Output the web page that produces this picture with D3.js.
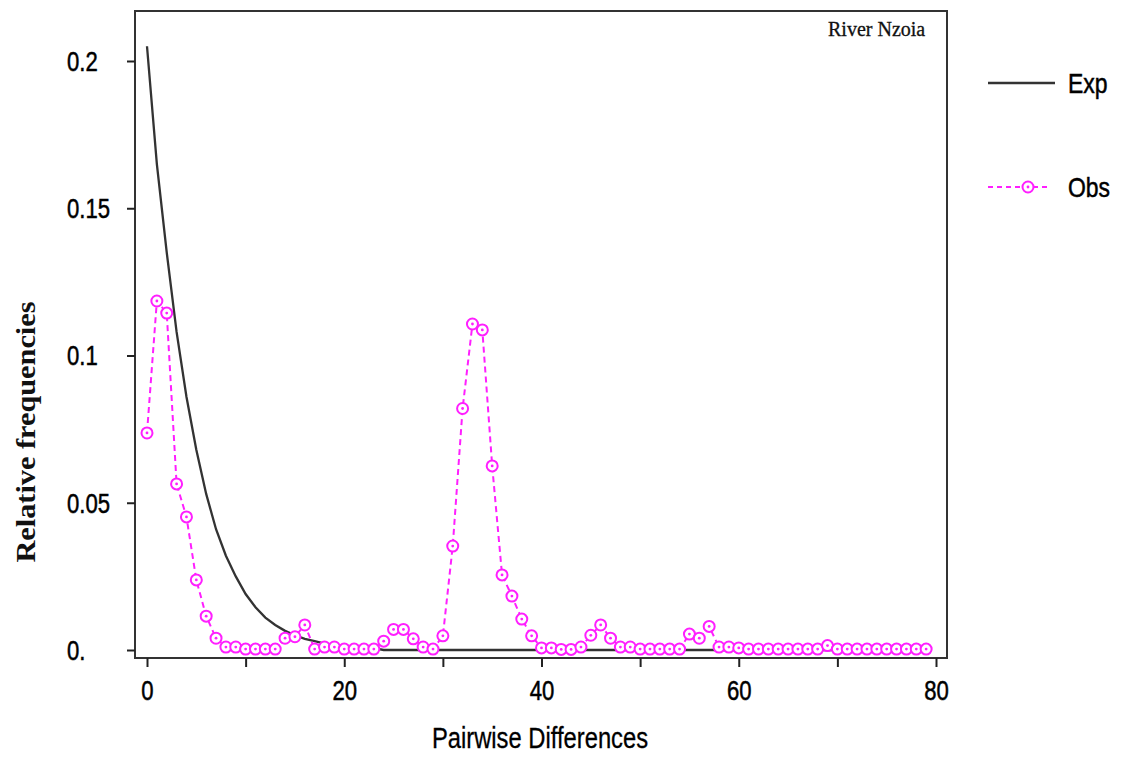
<!DOCTYPE html>
<html>
<head>
<meta charset="utf-8">
<script src="https://cdn.jsdelivr.net/npm/d3@7"></script>
<style>
  body { margin: 0; background: #fff; }
  .narrow { font-family: "Liberation Sans", Arial, sans-serif; }
  .narrow text, text.narrow { stroke: #000; stroke-width: 0.5px; }
</style>
</head>
<body>
<div id="chart"></div>
<script>
// pairwise differences 0..79
var diffs = d3.range(0, 80);

// expected (sudden expansion model)
var expVals = [0.205, 0.165, 0.135, 0.108, 0.086, 0.068, 0.053, 0.041, 0.032, 0.025,
               0.019, 0.0145, 0.011, 0.0085, 0.0065, 0.005, 0.0038, 0.003, 0.0022, 0.0017,
               0.0013, 0.001, 0.0008, 0.0006, 0, 0, 0, 0, 0, 0,
               0, 0, 0, 0, 0, 0, 0, 0, 0, 0,
               0, 0, 0, 0, 0, 0, 0, 0, 0, 0,
               0, 0, 0, 0, 0, 0, 0, 0, 0, 0,
               0, 0, 0, 0, 0, 0, 0, 0, 0, 0,
               0, 0, 0, 0, 0, 0, 0, 0, 0, 0];

// observed
var obsVals = [0.0737, 0.1185, 0.1144, 0.0564, 0.0452, 0.0238, 0.0115, 0.004, 0.001, 0.001,
               0.0003, 0.0003, 0.0003, 0.0003, 0.004, 0.0045, 0.0085, 0.0003, 0.001, 0.001,
               0.0003, 0.0003, 0.0003, 0.0003, 0.003, 0.007, 0.007, 0.0038, 0.001, 0.0003,
               0.0048, 0.0353, 0.082, 0.1107, 0.1087, 0.0625, 0.0255, 0.0183, 0.0105, 0.0048,
               0.0007, 0.0007, 0.0002, 0.0002, 0.001, 0.005, 0.0085, 0.004, 0.001, 0.001,
               0.0003, 0.0003, 0.0003, 0.0003, 0.0003, 0.0054, 0.004, 0.008, 0.001, 0.001,
               0.0007, 0.0003, 0.0003, 0.0003, 0.0003, 0.0003, 0.0003, 0.0003, 0.0003, 0.0015,
               0.0003, 0.0003, 0.0003, 0.0003, 0.0003, 0.0003, 0.0003, 0.0003, 0.0003, 0.0003];

var xTicks = [0, 10, 20, 30, 40, 50, 60, 70, 80];
var xLabels = ["0", "", "20", "", "40", "", "60", "", "80"];
var yTicks = [0, 0.05, 0.1, 0.15, 0.2];
var yLabels = ["0.", "0.05", "0.1", "0.15", "0.2"];

var W = 1121, H = 758;
var frame = {left: 135, top: 11, right: 947, bottom: 658};
var squeeze = 0.82; // narrow sans look

var svg = d3.select("#chart")
    .append("svg")
    .attr("width", W)
    .attr("height", H);

var x = d3.scaleLinear().domain([0, 80]).range([147, 936]);
var y = d3.scaleLinear().domain([0, 0.2]).range([650, 61]);

var magenta = "#ff1fff";

// frame
svg.append("rect")
    .attr("x", frame.left).attr("y", frame.top)
    .attr("width", frame.right - frame.left)
    .attr("height", frame.bottom - frame.top)
    .attr("fill", "none")
    .attr("stroke", "#333")
    .attr("stroke-width", 2);

// X axis
var xAxis = svg.append("g")
    .attr("class", "narrow")
    .attr("transform", "translate(0," + frame.bottom + ")")
    .call(d3.axisBottom(x)
        .tickValues(xTicks)
        .tickSize(9)
        .tickFormat(function(d, i) { return xLabels[i]; }));
xAxis.select(".domain").remove();
xAxis.selectAll("line").attr("stroke", "#222").attr("stroke-width", 2);
xAxis.selectAll("text")
    .attr("font-size", 27)
    .attr("fill", "#000")
    .attr("font-family", null)
    .attr("y", null).attr("dy", null)
    .attr("transform", "translate(0,42) scale(" + squeeze + ",1)");

// Y axis
var yAxis = svg.append("g")
    .attr("class", "narrow")
    .attr("transform", "translate(" + frame.left + ",0)")
    .call(d3.axisLeft(y)
        .tickValues(yTicks)
        .tickSize(8)
        .tickFormat(function(d, i) { return yLabels[i]; }));
yAxis.select(".domain").remove();
yAxis.selectAll("line").attr("stroke", "#222").attr("stroke-width", 2);
yAxis.selectAll("text")
    .attr("font-size", 27)
    .attr("fill", "#000")
    .attr("font-family", null)
    .attr("text-anchor", "start")
    .attr("x", null)
    .attr("dy", "0.35em")
    .attr("transform", "translate(-68,0) scale(" + squeeze + ",1)");

// axis titles
svg.append("text")
    .attr("class", "narrow")
    .attr("transform", "translate(540,748) scale(" + squeeze + ",1)")
    .attr("text-anchor", "middle")
    .attr("font-size", 29)
    .attr("fill", "#000")
    .style("stroke-width", "0.3px")
    .text("Pairwise Differences");

svg.append("text")
    .attr("transform", "translate(35,432) rotate(-90)")
    .attr("text-anchor", "middle")
    .attr("font-family", "'Liberation Serif', 'Times New Roman', serif")
    .attr("font-weight", "bold")
    .attr("font-size", 27)
    .attr("fill", "#111")
    .attr("textLength", 261)
    .attr("lengthAdjust", "spacingAndGlyphs")
    .text("Relative frequencies");

svg.append("text")
    .attr("x", 828).attr("y", 36)
    .attr("font-family", "'Liberation Serif', 'Times New Roman', serif")
    .attr("font-size", 20)
    .attr("fill", "#111")
    .attr("stroke", "#111")
    .attr("stroke-width", 0.3)
    .text("River Nzoia");

// lines
var line = d3.line()
    .x(function(d, i) { return x(diffs[i]); })
    .y(function(d) { return y(d); });

svg.append("path")
    .datum(expVals)
    .attr("d", line)
    .attr("fill", "none")
    .attr("stroke", "#333")
    .attr("stroke-width", 2.3);

svg.append("path")
    .datum(obsVals)
    .attr("d", line)
    .attr("fill", "none")
    .attr("stroke", magenta)
    .attr("stroke-width", 2)
    .attr("stroke-dasharray", "6,4");

// markers
function marker(g) {
    g.append("circle")
        .attr("r", 5.5)
        .attr("fill", "#fff")
        .attr("stroke", magenta)
        .attr("stroke-width", 2);
    g.append("circle")
        .attr("r", 1.4)
        .attr("fill", magenta);
}

svg.selectAll(".obs")
    .data(obsVals)
    .enter()
    .append("g")
    .attr("class", "obs")
    .attr("transform", function(d, i) { return "translate(" + x(diffs[i]) + "," + y(d) + ")"; })
    .call(marker);

// legend
var leg = svg.append("g");
leg.append("line")
    .attr("x1", 988).attr("x2", 1055)
    .attr("y1", 83).attr("y2", 83)
    .attr("stroke", "#333").attr("stroke-width", 2.3);
leg.append("text")
    .attr("class", "narrow")
    .attr("transform", "translate(1068,93) scale(" + squeeze + ",1)")
    .attr("font-size", 28)
    .attr("fill", "#000")
    .text("Exp");
leg.append("line")
    .attr("x1", 988).attr("x2", 1050)
    .attr("y1", 187).attr("y2", 187)
    .attr("stroke", magenta).attr("stroke-width", 2)
    .attr("stroke-dasharray", "5,4");
leg.append("g")
    .attr("transform", "translate(1028,187)")
    .call(marker);
leg.append("text")
    .attr("class", "narrow")
    .attr("transform", "translate(1068,197) scale(" + squeeze + ",1)")
    .attr("font-size", 28)
    .attr("fill", "#000")
    .text("Obs");
</script>
</body>
</html>
